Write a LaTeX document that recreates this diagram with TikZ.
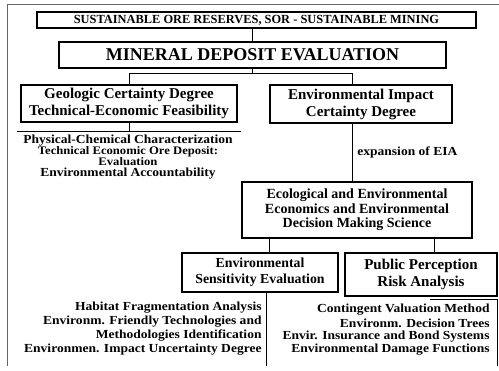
\documentclass[tikz,border=0pt]{standalone}
\usepackage{fontspec}
\setmainfont{Liberation Serif}
\newfontfamily\widefont{Liberation Serif}[FakeStretch=1.1]
\usetikzlibrary{calc, positioning}

\tikzset{
  frame/.style={draw, line width=1.1pt, align=center, inner sep=0pt},
  boxtext/.style={font=\fontsize{15}{17}\selectfont\bfseries},
  item/.style={inner sep=0pt, font=\widefont\fontsize{12.3}{12.3}\selectfont\bfseries},
}

\begin{document}
\begin{tikzpicture}[x=1pt, y=-1pt, line width=0.9pt]

\useasboundingbox (0,0) rectangle (499,371);

%% Marco exterior
\draw[black!60, line width=0.6pt] (499,4) -- (7,4) -- (7,366);

%% Cajas
\node[frame, minimum width=439pt, minimum height=16pt,
      font=\fontsize{12.4}{12.4}\selectfont\bfseries] (sor) at (256.5,20)
      {SUSTAINABLE ORE RESERVES, SOR - SUSTAINABLE MINING};
\node[frame, minimum width=387pt, minimum height=26pt,
      font=\fontsize{18}{18}\selectfont\bfseries] (mde) at (252.5,55)
      {MINERAL DEPOSIT EVALUATION};
\node[frame, boxtext, minimum width=216pt, minimum height=37pt] (geo) at (129,103.5)
      {Geologic Certainty Degree\\Technical-Economic Feasibility};
\node[frame, boxtext, minimum width=182pt, minimum height=38pt] (eia) at (361,104)
      {Environmental Impact\\Certainty Degree};
\node[frame, minimum width=230pt, minimum height=56pt,
      font=\fontsize{14}{14.5}\selectfont\bfseries] (eco) at (357,210)
      {Ecological and Environmental\\Economics and Environmental\\Decision Making Science};
\node[frame, minimum width=156pt, minimum height=39pt,
      font=\fontsize{13.8}{16}\selectfont\bfseries] (sens) at (260,272.5)
      {Environmental\\Sensitivity Evaluation};
\node[frame, boxtext, minimum width=152pt, minimum height=43pt] (ppr) at (421,274.5)
      {Public Perception\\Risk Analysis};

%% Textos bajo la caja geologica
\node[item] (phys) at (128,141) {Physical-Chemical Characterization};
\node[item, align=center, font=\widefont\fontsize{11.5}{8}\selectfont\bfseries] (tech) at (128,156)
      {Technical Economic Ore Deposit:\\Evaluation};
\node[item] (acc) at (128,174) {Environmental Accountability};

%% Textos bajo la evaluacion de sensibilidad
\node[item, anchor=east] (hab)  at (262,308) {Habitat Fragmentation Analysis};
\node[item, anchor=east] (tec)  at (262,322) {Environm. Friendly Technologies and};
\node[item, anchor=east] (meth) at (262,336) {Methodologies Identification};
\node[item, anchor=east] (unc)  at (262,350) {Environmen. Impact Uncertainty Degree};

%% Textos bajo la percepcion publica
\node[item, anchor=east] (cvm)  at (490,310) {Contingent Valuation Method};
\node[item, anchor=east] (tree) at (490,323) {Environm. Decision Trees};
\node[item, anchor=east] (ins)  at (490,337) {Envir. Insurance and Bond Systems};
\node[item, anchor=east] (dmg)  at (490,350) {Environmental Damage Functions};

%% Conectores
\draw (mde.north |- sor.south) -- (mde.north);

\coordinate (eiaIn) at ($(eia.north west)!0.456!(eia.north east)$);
\draw (mde.south) -- ++(0,5) coordinate (split);
\draw (geo.north) |- (split) -| (eiaIn);

% Linea bajo la caja geologica
\coordinate (ruleL) at (17,131);
\coordinate (ruleR) at (241,131);
\draw (ruleL) -- (ruleR);
\draw (geo.south) -- (geo.south |- ruleL);

\draw (eiaIn |- eia.south) -- node[item, anchor=west, pos=0.5, xshift=4pt] (exp)
      {expansion of EIA} (eiaIn |- eco.north);

\coordinate (xL) at (269,0);
\coordinate (xR) at (434,0);
\draw (xL |- eco.south) -- (xL |- sens.north);
\draw (xR |- eco.south) -- (xR |- ppr.north);

\coordinate (sensEnd) at (266,366);
\draw (sensEnd |- sens.south) -- (sensEnd);

\coordinate (pprL) at (430,299);
\coordinate (pprEnd) at (497,366);
\draw (pprL) -| (pprEnd);

\end{tikzpicture}
\end{document}
